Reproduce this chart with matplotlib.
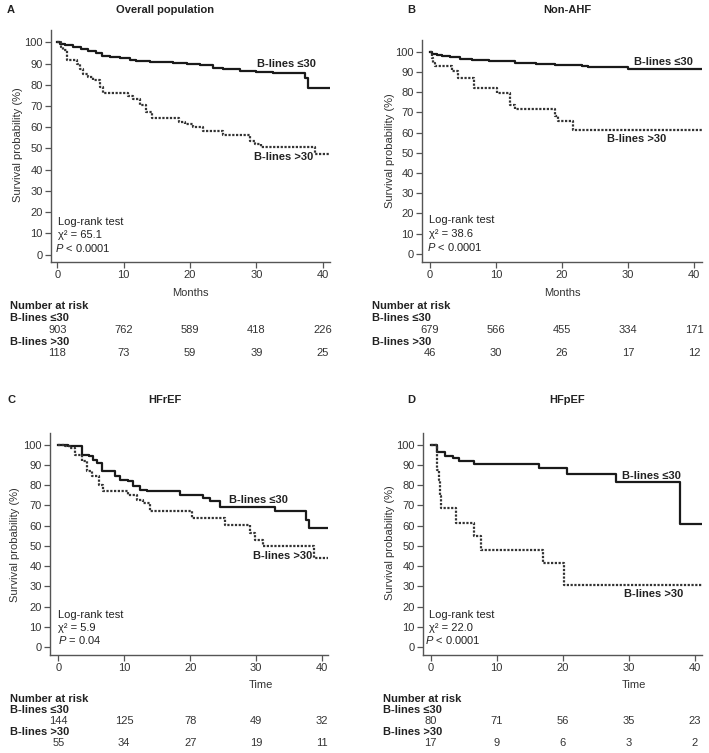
import matplotlib
matplotlib.use('Agg')
import matplotlib.pyplot as plt
from matplotlib.transforms import blended_transform_factory

plt.rcParams['font.family'] = ['Liberation Sans', 'DejaVu Sans']
plt.rcParams['font.size'] = 8
plt.rcParams['mathtext.fontset'] = 'custom'
plt.rcParams['mathtext.rm'] = 'Liberation Sans'
plt.rcParams['mathtext.it'] = 'Liberation Sans:italic'

# ---- data ----
risk_times = [0, 10, 20, 30, 40]

# A: overall population
a_le30_t = [0, 0.4, 1.2, 2.4, 3.5, 4.6, 5.9, 6.7, 8, 9.4, 11, 11.9, 14, 17.5, 19.5, 21.5, 23.5, 25, 27.5, 30, 32.5, 37.3, 37.8, 41.1]
a_le30_s = [100, 99, 98.5, 97.9, 97, 96, 95, 93.5, 93, 92.4, 91.8, 91.3, 90.6, 90.1, 89.7, 89.3, 87.7, 87.2, 86.6, 86, 85.4, 83, 78.7, 78.7]
a_gt30_t = [0, 0.5, 0.9, 1.4, 2.9, 3.4, 3.9, 4.6, 5.4, 6.4, 6.9, 10.7, 11.4, 12.4, 13.4, 14.3, 18.3, 19.2, 20.5, 22, 25, 29, 29.8, 30.7, 38.8, 41.1]
a_gt30_s = [100, 98, 96.2, 91.5, 89.9, 87.5, 85.2, 83.5, 82.1, 79, 75.9, 74.5, 73.5, 70.3, 67.2, 64.3, 62.5, 61.5, 60, 58.4, 56.3, 53.5, 52, 50.5, 47.5, 47.5]
a_risk_le30 = [903, 762, 589, 418, 226]
a_risk_gt30 = [118, 73, 59, 39, 25]

# B: non-AHF
b_le30_t = [0, 0.3, 1, 1.8, 3, 4.5, 6.3, 9, 12.9, 16, 19, 23, 24, 30, 41.2]
b_le30_s = [100, 99, 98.3, 97.7, 97.2, 96.6, 96, 95.5, 94.4, 94, 93.5, 93.1, 92.3, 91.3, 91.3]
b_gt30_t = [0, 0.3, 0.5, 0.7, 3.3, 4.3, 6.6, 10.1, 12.1, 12.9, 18.9, 19.4, 21.7, 41.2]
b_gt30_s = [100, 97, 94.4, 93, 90.3, 87, 82, 79.5, 73.8, 71.6, 68, 65.5, 61.5, 61.5]
b_risk_le30 = [679, 566, 455, 334, 171]
b_risk_gt30 = [46, 30, 26, 17, 12]

# C: HFrEF
c_le30_t = [0, 1.5, 3.6, 4.6, 5.3, 5.8, 6.6, 8.6, 9.4, 10.6, 11.4, 12.4, 13.4, 18.5, 22, 23, 24.5, 32.8, 37.5, 38, 40.9]
c_le30_s = [100, 99.2, 95.1, 94.2, 92.6, 91, 86.8, 84.4, 82.7, 81.9, 79.8, 77.8, 77, 75.3, 73.7, 72, 69.2, 67.1, 63, 58.9, 58.9]
c_gt30_t = [0, 1.0, 1.8, 2.5, 3.6, 4.3, 5.1, 6.1, 6.8, 10.6, 11.9, 12.9, 13.9, 20.3, 25.3, 29.1, 29.9, 31.1, 38.8, 40.9]
c_gt30_s = [100, 99.2, 98.4, 95, 91.8, 86.8, 84.4, 80.3, 77.3, 75.3, 72.9, 71.2, 67.1, 63.8, 60.5, 56.4, 53.1, 49.8, 44, 44]
c_risk_le30 = [144, 125, 78, 49, 32]
c_risk_gt30 = [55, 34, 27, 19, 11]

# D: HFpEF
d_le30_t = [0, 0.9, 2.1, 3.4, 4.3, 6.5, 16.4, 20.6, 28, 37.7, 41.1]
d_le30_s = [100, 96.2, 94.6, 93.4, 91.8, 90.5, 88.5, 85.5, 81.4, 61, 61]
d_gt30_t = [0, 0.9, 1.0, 1.2, 1.4, 1.6, 3.9, 6.6, 7.6, 17, 20.2, 41.1]
d_gt30_s = [100, 96, 87.7, 82.7, 74.5, 68.8, 61.3, 54.7, 48.2, 41.6, 30.9, 30.9]
d_risk_le30 = [80, 71, 56, 35, 23]
d_risk_gt30 = [17, 9, 6, 3, 2]

W, H = 709, 753
fig = plt.figure(figsize=(W / 100, H / 100), dpi=100)


def fx(x):
    return x / W


def fy(y):
    return 1 - y / H


SPINE = '#555555'
TXT = '#222222'

panels = [
    dict(letter='A', title='Overall population', box=(51, 30, 330, 262), xlim=(-0.95, 41.1), ylim=(-3.5, 105.8),
         letter_x=7, title_x=165, title_y=10, ylab=(18, 145),
         le=(a_le30_t, a_le30_s), gt=(a_gt30_t, a_gt30_s), risk=(a_risk_le30, a_risk_gt30),
         le_lab=(34.6, 89.8), gt_lab=(34.1, 46.1), stats=('65.1', '$P$ < 0.0001'), stat_x=(0.1, -0.35),
         stat_y=(15.5, 9.2, 3.1), xlab='Months', xlab_t=20,
         rows=(279, 293, 306, 318, 330, 342, 353), nar_x=10),
    dict(letter='B', title='Non-AHF', box=(422, 40, 702, 262), xlim=(-1.2, 41.2), ylim=(-4, 105.8),
         letter_x=407, title_x=567, title_y=10, ylab=(390, 151),
         le=(b_le30_t, b_le30_s), gt=(b_gt30_t, b_gt30_s), risk=(b_risk_le30, b_risk_gt30),
         le_lab=(35.3, 94.8), gt_lab=(31.3, 56.7), stats=('38.6', '$P$ < 0.0001'), stat_x=(-0.15, -0.5),
         stat_y=(16.8, 9.7, 3.3), xlab='Months', xlab_t=20,
         rows=(279, 293, 306, 318, 330, 342, 353), nar_x=372),
    dict(letter='C', title='HFrEF', box=(50, 433, 328, 655), xlim=(-1.26, 40.9), ylim=(-3.9, 105.8),
         letter_x=7, title_x=165, title_y=400, ylab=(15, 545),
         le=(c_le30_t, c_le30_s), gt=(c_gt30_t, c_gt30_s), risk=(c_risk_le30, c_risk_gt30),
         le_lab=(30.4, 72.9), gt_lab=(34.0, 44.9), stats=('5.9', '$P$ = 0.04'), stat_x=(0.0, 0.0),
         stat_y=(16.1, 9.5, 3.4), xlab='Time', xlab_t=30.8,
         rows=(670, 685, 699, 710, 721, 732, 743), nar_x=10),
    dict(letter='D', title='HFpEF', box=(423, 433, 702, 655), xlim=(-1.16, 41.1), ylim=(-3.9, 105.8),
         letter_x=407, title_x=567, title_y=400, ylab=(390, 543),
         le=(d_le30_t, d_le30_s), gt=(d_gt30_t, d_gt30_s), risk=(d_risk_le30, d_risk_gt30),
         le_lab=(33.5, 84.6), gt_lab=(33.7, 26.3), stats=('22.0', '$P$ < 0.0001'), stat_x=(-0.25, -0.86),
         stat_y=(16.1, 9.5, 3.4), xlab='Time', xlab_t=30.8,
         rows=(670, 685, 699, 710, 721, 732, 743), nar_x=383),
]

for p in panels:
    l, t, r, b = p['box']
    ax = fig.add_axes([fx(l), fy(b), (r - l) / W, (b - t) / H])
    ax.step(p['le'][0], p['le'][1], where='post', color='#1a1a1a', lw=1.6)
    ax.step(p['gt'][0], p['gt'][1], where='post', color='#333333', lw=1.6, linestyle=(0, (1, 0.7)))
    ax.set_xlim(*p['xlim'])
    ax.set_ylim(*p['ylim'])
    ax.set_xticks(risk_times)
    ax.set_yticks(range(0, 101, 10))
    for s in ('top', 'right'):
        ax.spines[s].set_visible(False)
    for s in ('left', 'bottom'):
        ax.spines[s].set_color(SPINE)
        ax.spines[s].set_linewidth(1.0)
    ax.tick_params(direction='out', length=4, width=0.9, color=SPINE, labelcolor='#333333',
                   labelsize=8, pad=2)

    ax.text(*p['le_lab'], 'B-lines ≤30', ha='center', va='center', fontweight='bold', color=TXT)
    ax.text(*p['gt_lab'], 'B-lines >30', ha='center', va='center', fontweight='bold', color=TXT)
    ax.text(p['stat_x'][0], p['stat_y'][0], 'Log-rank test', va='center', color=TXT)
    ax.text(p['stat_x'][0], p['stat_y'][1], 'χ² = ' + p['stats'][0], va='center', color=TXT)
    ax.text(p['stat_x'][1], p['stat_y'][2], p['stats'][1], va='center', color=TXT)

    fig.text(fx(p['letter_x']), fy(p['title_y']), p['letter'], fontweight='bold', va='center', color=TXT)
    fig.text(fx(p['title_x']), fy(p['title_y']), p['title'], fontweight='bold', ha='center', va='center',
             color=TXT)
    fig.text(fx(p['ylab'][0]), fy(p['ylab'][1]), 'Survival probability (%)', rotation=90,
             ha='center', va='center', color='#333333')

    rows = p['rows']
    tr = blended_transform_factory(ax.transData, fig.transFigure)
    ax.text(p['xlab_t'], fy(rows[1]), p['xlab'], transform=tr, ha='center', va='center',
            color='#333333', clip_on=False)
    fig.text(fx(p['nar_x']), fy(rows[2]), 'Number at risk', fontweight='bold', va='center', color=TXT)
    fig.text(fx(p['nar_x']), fy(rows[3]), 'B-lines ≤30', fontweight='bold', va='center', color=TXT)
    fig.text(fx(p['nar_x']), fy(rows[5]), 'B-lines >30', fontweight='bold', va='center', color=TXT)
    for tm, n1, n2 in zip(risk_times, p['risk'][0], p['risk'][1]):
        ax.text(tm, fy(rows[4]), str(n1), transform=tr, ha='center', va='center', color='#333333',
                clip_on=False)
        ax.text(tm, fy(rows[6]), str(n2), transform=tr, ha='center', va='center', color='#333333',
                clip_on=False)

fig.savefig('out.png', dpi=100)
